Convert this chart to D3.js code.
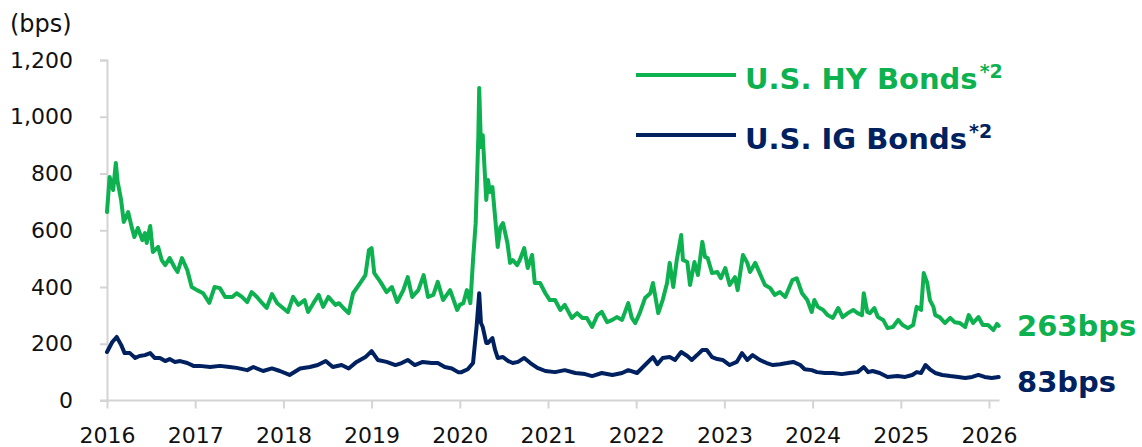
<!DOCTYPE html>
<html>
<head>
<meta charset="utf-8">
<script src="https://cdn.jsdelivr.net/npm/d3@7"></script>
<style>
  html, body { margin: 0; padding: 0; background: #fff; }
  svg { display: block; }
  text { font-family: "DejaVu Sans", Verdana, sans-serif; }
</style>
</head>
<body>
<svg id="chart" width="1142" height="447"></svg>
<script>
// ---- Data (decimal year, spread in bps) ----
const hyDates = [2016.00,2016.03,2016.07,2016.10,2016.12,2016.16,2016.19,2016.24,2016.28,2016.31,2016.35,2016.40,2016.43,2016.45,2016.49,2016.52,2016.58,2016.62,2016.66,2016.71,2016.77,2016.80,2016.85,2016.91,2016.96,
2017.02,2017.09,2017.16,2017.22,2017.28,2017.34,2017.42,2017.47,2017.53,2017.59,2017.64,2017.70,2017.76,2017.81,2017.87,2017.93,
2018.05,2018.11,2018.17,2018.24,2018.28,2018.34,2018.40,2018.45,2018.51,2018.59,2018.63,2018.68,2018.74,2018.79,2018.87,2018.93,2018.97,
2019.00,2019.03,2019.10,2019.17,2019.23,2019.29,2019.36,2019.41,2019.46,2019.53,2019.59,2019.64,2019.70,2019.75,2019.81,2019.89,2019.97,
2020.00,2020.04,2020.08,2020.12,2020.15,2020.18,2020.21,2020.22,2020.24,2020.26,2020.30,2020.32,2020.34,2020.37,2020.40,2020.43,2020.46,2020.49,2020.54,2020.57,2020.60,2020.65,2020.68,2020.73,2020.77,2020.82,2020.85,2020.91,2020.97,
2021.02,2021.08,2021.14,2021.19,2021.27,2021.33,2021.39,2021.44,2021.50,2021.56,2021.61,2021.67,2021.73,2021.78,2021.84,2021.91,2021.95,2021.99,
2022.04,2022.10,2022.16,2022.19,2022.25,2022.30,2022.35,2022.38,2022.42,2022.46,2022.51,2022.53,2022.58,2022.61,2022.66,2022.70,2022.75,2022.78,2022.81,2022.86,2022.92,2022.96,
2023.01,2023.06,2023.12,2023.15,2023.21,2023.26,2023.29,2023.35,2023.40,2023.46,2023.52,2023.57,2023.63,2023.69,2023.77,2023.82,2023.88,2023.94,2023.99,
2024.02,2024.06,2024.12,2024.17,2024.23,2024.29,2024.34,2024.40,2024.46,2024.51,2024.56,2024.58,2024.62,2024.65,2024.70,2024.74,2024.80,2024.85,2024.91,2024.97,
2025.02,2025.08,2025.14,2025.18,2025.23,2025.26,2025.30,2025.33,2025.37,2025.39,2025.44,2025.50,2025.56,2025.61,2025.67,2025.73,2025.77,2025.82,2025.88,2025.93,2025.99,
2026.05,2026.09,2026.11];
const hyValues = [664,788,742,837,772,707,629,664,611,576,608,565,590,555,615,523,541,495,477,502,467,453,502,460,400,
389,378,344,400,396,365,365,378,365,347,382,365,343,326,375,343,
312,365,337,354,312,343,372,330,365,337,343,326,308,378,414,442,530,
537,449,418,382,400,347,389,435,365,389,442,365,372,418,354,389,319,
337,343,389,343,495,625,928,1101,893,935,707,777,735,752,647,541,611,625,555,485,495,477,495,537,467,513,414,414,378,
354,354,319,337,291,308,291,291,259,301,312,276,284,294,284,343,291,273,
308,361,378,414,308,354,414,485,400,495,583,495,488,407,488,442,559,506,502,449,453,431,
467,407,435,389,513,485,453,485,449,407,396,372,382,365,424,431,378,354,312,
354,330,319,301,291,326,294,308,319,308,301,378,312,308,326,294,284,255,259,284,
266,255,266,330,319,449,414,354,330,301,294,273,291,276,273,259,301,273,294,266,266,
248,270,263];

const igDates = [2016.00,2016.06,2016.11,2016.16,2016.20,2016.26,2016.32,2016.37,2016.43,2016.49,2016.54,2016.60,2016.66,2016.71,2016.77,2016.83,2016.91,2016.98,
2017.05,2017.17,2017.28,2017.39,2017.47,2017.59,2017.66,2017.77,2017.87,2017.96,
2018.07,2018.19,2018.30,2018.39,2018.48,2018.56,2018.66,2018.74,2018.83,2018.93,
2019.00,2019.07,2019.17,2019.27,2019.34,2019.41,2019.49,2019.58,2019.68,2019.75,2019.83,2019.91,2019.98,
2020.02,2020.09,2020.15,2020.19,2020.22,2020.24,2020.26,2020.30,2020.32,2020.37,2020.40,2020.43,2020.49,2020.55,2020.60,2020.66,2020.73,2020.80,2020.88,2020.97,
2021.08,2021.19,2021.31,2021.42,2021.50,2021.61,2021.73,2021.84,2021.91,
2022.01,2022.10,2022.19,2022.24,2022.30,2022.38,2022.44,2022.51,2022.58,2022.63,2022.69,2022.75,2022.80,2022.86,2022.92,2022.98,
2023.06,2023.14,2023.20,2023.26,2023.32,2023.40,2023.48,2023.55,2023.63,2023.71,2023.78,2023.86,2023.91,2023.99,
2024.05,2024.14,2024.23,2024.33,2024.42,2024.51,2024.58,2024.63,2024.68,2024.76,2024.85,2024.96,
2025.05,2025.13,2025.18,2025.23,2025.28,2025.33,2025.39,2025.47,2025.56,2025.65,2025.73,2025.81,2025.88,2025.95,
2026.03,2026.11];
const igValues = [171,206,224,196,167,167,150,157,160,167,150,150,139,146,136,139,132,122,
122,118,122,118,115,107,118,104,113,104,
90,113,118,125,139,118,125,113,136,153,
174,143,136,125,132,143,125,136,132,132,118,113,100,
100,110,132,259,378,273,259,203,203,220,178,150,153,139,132,136,150,132,115,104,
100,107,97,93,86,97,90,97,107,
97,125,153,128,150,153,143,171,157,143,160,178,178,153,146,143,
125,136,167,143,160,143,132,125,128,132,136,125,110,107,
100,97,97,93,97,100,118,100,104,97,83,86,
83,90,100,97,125,110,97,90,86,83,79,83,90,83,
79,83];

const yTicks = [0, 200, 400, 600, 800, 1000, 1200];
const yearTicks = [2016, 2017, 2018, 2019, 2020, 2021, 2022, 2023, 2024, 2025, 2026];
const seriesNames = ["U.S. HY Bonds", "U.S. IG Bonds"];
const seriesNotes = ["*2", "*2"];
const latestLabels = ["263bps", "83bps"];
const unitLabel = "(bps)";

// ---- Styles ----
const GREEN = "#0db14f";
const NAVY = "#00215f";
const AXIS = "#d4d4d4";

const svg = d3.select("#chart");

const x = d3.scaleLinear().domain([2016, 2026.12]).range([107, 107 + 10.12 * 88.2]);
const y = d3.scaleLinear().domain([0, 1200]).range([400.5, 60]);

// Y axis
const yAxis = svg.append("g").attr("transform", `translate(${x(2016)},0)`)
  .call(d3.axisLeft(y).tickValues(yTicks).tickSize(7).tickPadding(27)
    .tickFormat(d3.format(",")));
yAxis.select(".domain").attr("stroke", AXIS).attr("stroke-width", 2);
yAxis.selectAll(".tick line").attr("stroke", AXIS).attr("stroke-width", 2);
yAxis.selectAll(".tick text").attr("fill", "#111").style("font-size", "22px")
  .style("font-family", "'DejaVu Sans', Verdana, sans-serif");

// X axis
const xAxis = svg.append("g").attr("transform", `translate(0,${y(0)})`)
  .call(d3.axisBottom(x).tickValues(yearTicks).tickSize(8).tickPadding(19)
    .tickFormat(d3.format("d")));
xAxis.select(".domain").attr("stroke", AXIS).attr("stroke-width", 2)
  .attr("d", `M${x(2016) - 7},0H${x(2026.12)}`);
xAxis.selectAll(".tick line").attr("stroke", AXIS).attr("stroke-width", 2);
xAxis.selectAll(".tick text").attr("fill", "#111").style("font-size", "22px")
  .style("font-family", "'DejaVu Sans', Verdana, sans-serif");

// unit label
svg.append("text").attr("x", 10).attr("y", 32).attr("fill", "#111")
  .style("font-size", "24px").text(unitLabel);

// lines
const line = d3.line().x(d => x(d[0])).y(d => y(d[1]));
const series = [
  { dates: hyDates, values: hyValues, color: GREEN },
  { dates: igDates, values: igValues, color: NAVY }
];
series.forEach(s => {
  const pts = s.dates.map((d, i) => [d, s.values[i]]);
  svg.append("path").datum(pts)
    .attr("fill", "none").attr("stroke", s.color).attr("stroke-width", 4)
    .attr("stroke-linejoin", "round").attr("stroke-linecap", "round")
    .attr("d", line);
});

// legend
const legendY = [75, 135];
[GREEN, NAVY].forEach((c, i) => {
  svg.append("line").attr("x1", 636).attr("x2", 736)
    .attr("y1", legendY[i]).attr("y2", legendY[i])
    .attr("stroke", c).attr("stroke-width", 4);
  const t = svg.append("text").attr("x", 745).attr("y", legendY[i] + 14)
    .attr("fill", c).style("font-size", "29px").style("font-weight", "bold")
    .text(seriesNames[i]);
  t.append("tspan").attr("dx", 2).attr("dy", -11).style("font-size", "19px").text(seriesNotes[i]);
});

// latest labels
const labelY = [336, 392];
[GREEN, NAVY].forEach((c, i) => {
  svg.append("text").attr("x", 1017).attr("y", labelY[i])
    .attr("fill", c).style("font-size", "29px").style("font-weight", "bold")
    .text(latestLabels[i]);
});
</script>
</body>
</html>
